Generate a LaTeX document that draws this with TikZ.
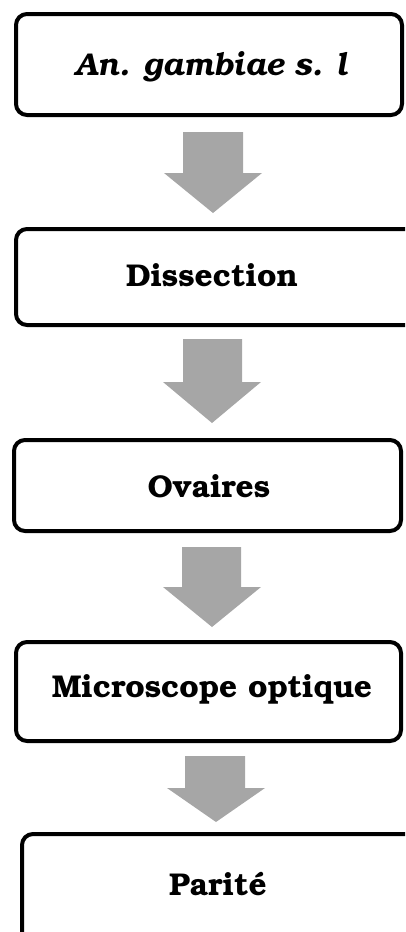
\documentclass[tikz,border=0pt]{standalone}
\usepackage[T1]{fontenc}
\usepackage{bookman}
\begin{document}
\begin{tikzpicture}[x=1pt,y=-1pt,
  stepbox/.style={draw=black,line width=4pt,rounded corners=11pt,fill=white},
  lbl/.style={font=\fontsize{31.5}{36}\selectfont\bfseries,inner sep=0pt,anchor=base},
  blockarrow/.style={fill=arrowgray,draw=none}]
\definecolor{arrowgray}{HTML}{A6A6A6}
\useasboundingbox (0,0) rectangle (405,932);
\clip (0,0) rectangle (405,932);
% boxes
\draw[stepbox] (16,14) rectangle (402,115);
\node[inner sep=0pt,minimum size=0pt] (b1) at (209,64.5) {};
\draw[stepbox] (16,229) rectangle (440,325);
\node[inner sep=0pt,minimum size=0pt] (b2) at (209,277) {};
\draw[stepbox] (14,440) rectangle (401,531);
\node[inner sep=0pt,minimum size=0pt] (b3) at (209,485) {};
\draw[stepbox] (16,642) rectangle (401,741);
\node[inner sep=0pt,minimum size=0pt] (b4) at (209,691) {};
\draw[stepbox] (22,834) rectangle (440,960);
\node[inner sep=0pt,minimum size=0pt] (b5) at (209,884) {};
% labels
\node[lbl] (t1) at (211,75) {\itshape An. gambiae s. l};
\node[lbl] (t2) at (212,286) {Dissection};
\node[lbl] (t3) at (209,497) {Ovaires};
\node[lbl] (t4) at (212,697) {Microscope optique};
\node[lbl] (t5) at (218,895) {Parit\'e};
% arrows
\fill[blockarrow] (183,132) -- (243,132) -- (243,173) -- (262,173) -- (213,213) -- (164,173) -- (183,173) -- cycle;
\fill[blockarrow] (183,339) -- (242,339) -- (242,382) -- (261,382) -- (212,423) -- (163,382) -- (183,382) -- cycle;
\fill[blockarrow] (182,547) -- (241,547) -- (241,587) -- (261,587) -- (212,627) -- (163,587) -- (182,587) -- cycle;
\fill[blockarrow] (185,756) -- (245,756) -- (245,788) -- (265,788) -- (216,822) -- (167,788) -- (185,788) -- cycle;
\end{tikzpicture}
\end{document}
